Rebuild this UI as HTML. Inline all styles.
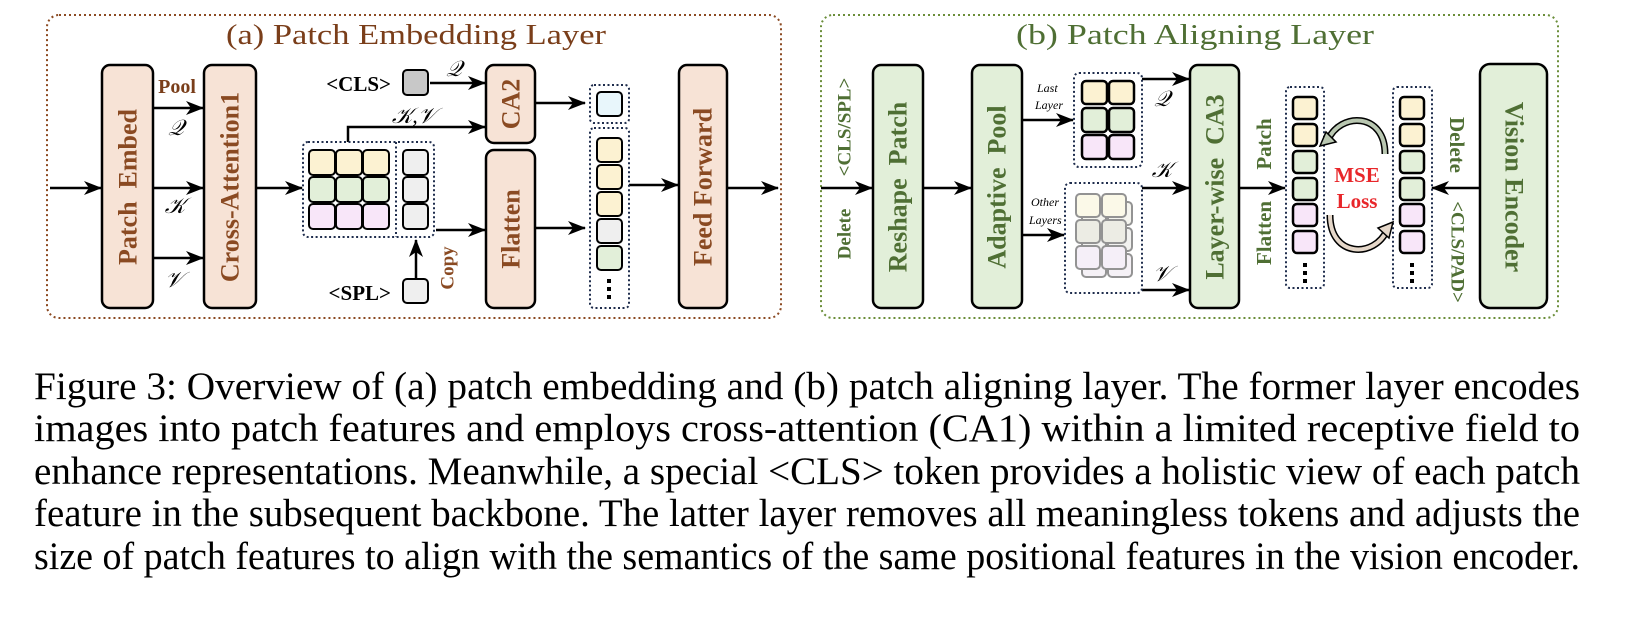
<!DOCTYPE html>
<html><head><meta charset="utf-8"><style>
html,body{margin:0;padding:0;background:#fff;}
svg{display:block;}
.bt{font-family:"Liberation Serif",serif;font-weight:bold;font-size:26px;text-anchor:middle;dominant-baseline:central;}
.ba{fill:#8a4a22}.gb{fill:#4f6f34}
</style></head><body>
<svg width="1634" height="622" viewBox="0 0 1634 622" xmlns="http://www.w3.org/2000/svg">
<defs>
<marker id="as" markerWidth="18" markerHeight="14" refX="17" refY="7" orient="auto" markerUnits="userSpaceOnUse"><path d="M0,0 L18,7 L0,14 L5,7 z" fill="#000"/></marker>
</defs>
<rect x="47" y="15" width="734" height="303" rx="12" fill="none" stroke="#8b4a22" stroke-width="2" stroke-dasharray="2,3"/>
<rect x="821" y="15" width="737" height="303" rx="12" fill="none" stroke="#6b8e3a" stroke-width="2" stroke-dasharray="2,3"/>
<text x="226" y="44" font-family="Liberation Serif,serif" font-size="28" fill="#7a3e1a" textLength="380" lengthAdjust="spacingAndGlyphs">(a)  Patch Embedding Layer</text>
<text x="1016" y="44" font-family="Liberation Serif,serif" font-size="28" fill="#4f6f34" textLength="358" lengthAdjust="spacingAndGlyphs">(b)  Patch Aligning Layer</text>

<g fill="#f7e3d6" stroke="#000" stroke-width="2.5">
<rect x="102" y="65" width="51" height="243" rx="8"/>
<rect x="204" y="65" width="52" height="243" rx="8"/>
<rect x="486" y="65" width="49" height="78" rx="8"/>
<rect x="486" y="150" width="49" height="158" rx="8"/>
<rect x="679" y="65" width="48" height="243" rx="8"/>
</g>
<text class="bt ba" transform="translate(128,187) rotate(-90)" xml:space="preserve">Patch  Embed</text>
<text class="bt ba" transform="translate(230,187) rotate(-90)">Cross-Attention1</text>
<text class="bt ba" transform="translate(511,104) rotate(-90)">CA2</text>
<text class="bt ba" transform="translate(511,229) rotate(-90)">Flatten</text>
<text class="bt ba" transform="translate(703,187) rotate(-90)">Feed Forward</text>

<g stroke="#000" stroke-width="2.5" fill="none">
<line x1="50" y1="188" x2="101" y2="188" marker-end="url(#as)"/>
<line x1="153" y1="108" x2="203" y2="108" marker-end="url(#as)"/>
<line x1="153" y1="188" x2="203" y2="188" marker-end="url(#as)"/>
<line x1="153" y1="258" x2="203" y2="258" marker-end="url(#as)"/>
<line x1="256" y1="188" x2="302" y2="188" marker-end="url(#as)"/>
<line x1="430" y1="83" x2="485" y2="83" marker-end="url(#as)"/>
<polyline points="348,142 348,127 485,127" marker-end="url(#as)"/>
<line x1="535" y1="103" x2="585" y2="103" marker-end="url(#as)"/>
<line x1="436" y1="230" x2="485" y2="230" marker-end="url(#as)"/>
<line x1="535" y1="228" x2="585" y2="228" marker-end="url(#as)"/>
<line x1="629" y1="185" x2="678" y2="185" marker-end="url(#as)"/>
<line x1="727" y1="188" x2="778" y2="188" marker-end="url(#as)"/>
<line x1="416" y1="278" x2="416" y2="240" marker-end="url(#as)"/>
</g>
<text x="177" y="93" font-family="Liberation Serif,serif" font-weight="bold" font-size="20" fill="#7a3e1a" text-anchor="middle">Pool</text>
<g font-family="Liberation Serif,serif" font-style="italic" font-size="22" text-anchor="middle">
<text x="176" y="135">𝒬</text><text x="175" y="213">𝒦</text><text x="174" y="287">𝒱</text>
<text x="454" y="76">𝒬</text><text x="414" y="123">𝒦,𝒱</text>
</g>
<text x="391" y="91" font-family="Liberation Serif,serif" font-weight="bold" font-size="21" text-anchor="end">&lt;CLS&gt;</text>
<text x="391" y="300" font-family="Liberation Serif,serif" font-weight="bold" font-size="21" text-anchor="end">&lt;SPL&gt;</text>
<text class="ba" transform="translate(448,268) rotate(-90)" font-family="Liberation Serif,serif" font-weight="bold" font-size="19" text-anchor="middle" dominant-baseline="central">Copy</text>

<rect x="303" y="142" width="131" height="95" rx="5" fill="none" stroke="#1f2d4d" stroke-width="2" stroke-dasharray="2,2.5"/>
<line x1="396" y1="142" x2="396" y2="237" stroke="#1f2d4d" stroke-width="2" stroke-dasharray="2,2.5"/>
<g stroke="#000" stroke-width="2">
<rect x="309" y="150" width="26" height="25" rx="4" fill="#fcf2d2"/><rect x="336" y="150" width="26" height="25" rx="4" fill="#fcf2d2"/><rect x="363" y="150" width="26" height="25" rx="4" fill="#fcf2d2"/>
<rect x="309" y="177" width="26" height="25" rx="4" fill="#e2efd9"/><rect x="336" y="177" width="26" height="25" rx="4" fill="#e2efd9"/><rect x="363" y="177" width="26" height="25" rx="4" fill="#e2efd9"/>
<rect x="309" y="204" width="26" height="25" rx="4" fill="#f8e6f9"/><rect x="336" y="204" width="26" height="25" rx="4" fill="#f8e6f9"/><rect x="363" y="204" width="26" height="25" rx="4" fill="#f8e6f9"/>
<rect x="403" y="150" width="25" height="25" rx="4" fill="#efefef"/><rect x="403" y="177" width="25" height="25" rx="4" fill="#efefef"/><rect x="403" y="204" width="25" height="25" rx="4" fill="#efefef"/>
<rect x="403" y="70" width="25" height="25" rx="4" fill="#c8c8c8"/>
<rect x="403" y="279" width="25" height="24" rx="4" fill="#efefef"/>
</g>
<rect x="590" y="85" width="39" height="38" rx="4" fill="none" stroke="#1f2d4d" stroke-width="2" stroke-dasharray="2,2.5"/>
<rect x="590" y="128" width="39" height="180" rx="4" fill="none" stroke="#1f2d4d" stroke-width="2" stroke-dasharray="2,2.5"/>
<g stroke="#000" stroke-width="2">
<rect x="597" y="92" width="25" height="24" rx="4" fill="#e8f6fb"/>
<rect x="597" y="138" width="25" height="24" rx="4" fill="#fcf2d2"/>
<rect x="597" y="165" width="25" height="24" rx="4" fill="#fcf2d2"/>
<rect x="597" y="192" width="25" height="24" rx="4" fill="#fcf2d2"/>
<rect x="597" y="219" width="25" height="24" rx="4" fill="#efefef"/>
<rect x="597" y="246" width="25" height="24" rx="4" fill="#e2efd9"/>
</g>
<g fill="#000"><rect x="607" y="279" width="4" height="4"/><rect x="607" y="287" width="4" height="4"/><rect x="607" y="295" width="4" height="4"/></g>

<g fill="#e2efd9" stroke="#000" stroke-width="2.5">
<rect x="873" y="65" width="50" height="243" rx="8"/>
<rect x="972" y="65" width="50" height="243" rx="8"/>
<rect x="1190" y="65" width="49" height="243" rx="8"/>
<rect x="1480" y="64" width="67" height="244" rx="10"/>
</g>
<text class="bt gb" transform="translate(898,187) rotate(-90)" xml:space="preserve">Reshape  Patch</text>
<text class="bt gb" transform="translate(997,187) rotate(-90)" xml:space="preserve">Adaptive  Pool</text>
<text class="bt gb" transform="translate(1215,187) rotate(-90)" xml:space="preserve">Layer-wise  CA3</text>
<text class="bt gb" transform="translate(1514,187) rotate(90)" font-size="29">Vision Encoder</text>
<g font-family="Liberation Serif,serif" font-weight="bold" font-size="19" fill="#4f6f34" text-anchor="middle" dominant-baseline="central">
<text transform="translate(845,234) rotate(-90)">Delete</text>
<text transform="translate(845,127) rotate(-90)">&lt;CLS/SPL&gt;</text>
<text transform="translate(1264,233) rotate(-90)" font-size="21">Flatten</text>
<text transform="translate(1264,144) rotate(-90)" font-size="21">Patch</text>
<text transform="translate(1457,145) rotate(90)" font-size="21">Delete</text>
<text transform="translate(1457,252) rotate(90)">&lt;CLS/PAD&gt;</text>
</g>
<g stroke="#000" stroke-width="2.5" fill="none">
<line x1="821" y1="188" x2="872" y2="188" marker-end="url(#as)"/>
<line x1="923" y1="188" x2="971" y2="188" marker-end="url(#as)"/>
<line x1="1022" y1="120" x2="1073" y2="120" marker-end="url(#as)"/>
<line x1="1022" y1="235" x2="1064" y2="235" marker-end="url(#as)"/>
<line x1="1142" y1="79" x2="1189" y2="79" marker-end="url(#as)"/>
<line x1="1142" y1="188" x2="1189" y2="188" marker-end="url(#as)"/>
<line x1="1142" y1="290" x2="1189" y2="290" marker-end="url(#as)"/>
<line x1="1239" y1="188" x2="1285" y2="188" marker-end="url(#as)"/>
<line x1="1480" y1="188" x2="1432" y2="188" marker-end="url(#as)"/>
</g>
<g font-family="Liberation Serif,serif" font-style="italic" font-size="12" fill="#000">
<text x="1037" y="92">Last</text><text x="1035" y="109">Layer</text>
<text x="1031" y="206">Other</text><text x="1029" y="224">Layers</text>
</g>
<g font-family="Liberation Serif,serif" font-style="italic" font-size="22" text-anchor="middle">
<text x="1162" y="106">𝒬</text><text x="1162" y="177">𝒦</text><text x="1162" y="281">𝒱</text>
</g>
<rect x="1074" y="73" width="68" height="94" rx="5" fill="none" stroke="#1f2d4d" stroke-width="2" stroke-dasharray="2,2.5"/>
<g stroke="#000" stroke-width="2.5">
<rect x="1082" y="81" width="25" height="23" rx="4" fill="#fcf2d2"/><rect x="1109" y="81" width="25" height="23" rx="4" fill="#fcf2d2"/>
<rect x="1082" y="108" width="25" height="24" rx="4" fill="#e2efd9"/><rect x="1109" y="108" width="25" height="24" rx="4" fill="#e2efd9"/>
<rect x="1082" y="135" width="25" height="24" rx="4" fill="#f8e6f9"/><rect x="1109" y="135" width="25" height="24" rx="4" fill="#f8e6f9"/>
</g>
<rect x="1065" y="183" width="77" height="110" rx="5" fill="none" stroke="#1f2d4d" stroke-width="2" stroke-dasharray="2,2.5"/>
<g stroke="#888" stroke-width="2" opacity="0.9">
<rect x="1082" y="202" width="24" height="23" rx="4" fill="#f4f4ee"/><rect x="1108" y="202" width="24" height="23" rx="4" fill="#f4f4ee"/>
<rect x="1082" y="228" width="24" height="23" rx="4" fill="#f1f1ef"/><rect x="1108" y="228" width="24" height="23" rx="4" fill="#f1f1ef"/>
<rect x="1082" y="254" width="24" height="23" rx="4" fill="#f4f0f6"/><rect x="1108" y="254" width="24" height="23" rx="4" fill="#f4f0f6"/>
<rect x="1076" y="194" width="24" height="23" rx="4" fill="#fbf9e6"/><rect x="1102" y="194" width="24" height="23" rx="4" fill="#fbf9e6"/>
<rect x="1076" y="220" width="24" height="23" rx="4" fill="#ebebe2"/><rect x="1102" y="220" width="24" height="23" rx="4" fill="#ebebe2"/>
<rect x="1076" y="246" width="24" height="23" rx="4" fill="#f4eef8"/><rect x="1102" y="246" width="24" height="23" rx="4" fill="#f4eef8"/>
</g>
<rect x="1286" y="87" width="38" height="201" rx="4" fill="none" stroke="#1f2d4d" stroke-width="2" stroke-dasharray="2,2.5"/>
<rect x="1393" y="87" width="39" height="201" rx="4" fill="none" stroke="#1f2d4d" stroke-width="2" stroke-dasharray="2,2.5"/>
<g stroke="#000" stroke-width="2.5">
<rect x="1293" y="97" width="24" height="22" rx="4" fill="#fcf2d2"/><rect x="1293" y="124" width="24" height="22" rx="4" fill="#fcf2d2"/>
<rect x="1293" y="151" width="24" height="22" rx="4" fill="#e2efd9"/><rect x="1293" y="178" width="24" height="22" rx="4" fill="#e2efd9"/>
<rect x="1293" y="204" width="24" height="22" rx="4" fill="#f8e6f9"/><rect x="1293" y="231" width="24" height="22" rx="4" fill="#f8e6f9"/>
<rect x="1400" y="97" width="24" height="22" rx="4" fill="#fcf2d2"/><rect x="1400" y="124" width="24" height="22" rx="4" fill="#fcf2d2"/>
<rect x="1400" y="151" width="24" height="22" rx="4" fill="#e2efd9"/><rect x="1400" y="178" width="24" height="22" rx="4" fill="#e2efd9"/>
<rect x="1400" y="204" width="24" height="22" rx="4" fill="#f8e6f9"/><rect x="1400" y="231" width="24" height="22" rx="4" fill="#f8e6f9"/>
</g>
<g fill="#000"><rect x="1303" y="263" width="4" height="4"/><rect x="1303" y="271" width="4" height="4"/><rect x="1303" y="279" width="4" height="4"/>
<rect x="1410" y="263" width="4" height="4"/><rect x="1410" y="271" width="4" height="4"/><rect x="1410" y="279" width="4" height="4"/></g>
<path d="M1385,154 C1385,112 1340,112 1328,140" fill="none" stroke="#000" stroke-width="7"/>
<path d="M1385,154 C1385,112 1340,112 1328,140" fill="none" stroke="#b9c7b1" stroke-width="4"/>
<path d="M1320,146 L1336,142 L1326,132 z" fill="#b9c7b1" stroke="#000" stroke-width="1.5"/>
<path d="M1330,215 C1330,258 1375,258 1387,230" fill="none" stroke="#000" stroke-width="7"/>
<path d="M1330,215 C1330,258 1375,258 1387,230" fill="none" stroke="#e5d7c9" stroke-width="4"/>
<path d="M1393,222 L1378,228 L1389,238 z" fill="#e5d7c9" stroke="#000" stroke-width="1.5"/>
<text x="1357" y="182" font-family="Liberation Serif,serif" font-weight="bold" font-size="21" fill="#e8262a" text-anchor="middle">MSE</text>
<text x="1357" y="208" font-family="Liberation Serif,serif" font-weight="bold" font-size="21" fill="#e8262a" text-anchor="middle">Loss</text>

<g font-family="Liberation Serif,serif" font-size="39" fill="#000">
<text x="34" y="399" textLength="1546" lengthAdjust="spacingAndGlyphs">Figure 3: Overview of (a) patch embedding and (b) patch aligning layer. The former layer encodes</text>
<text x="34" y="441" textLength="1546" lengthAdjust="spacingAndGlyphs">images into patch features and employs cross-attention (CA1) within a limited receptive field to</text>
<text x="34" y="484" textLength="1546" lengthAdjust="spacingAndGlyphs">enhance representations. Meanwhile, a special &lt;CLS&gt; token provides a holistic view of each patch</text>
<text x="34" y="526" textLength="1546" lengthAdjust="spacingAndGlyphs">feature in the subsequent backbone. The latter layer removes all meaningless tokens and adjusts the</text>
<text x="34" y="569" textLength="1546" lengthAdjust="spacingAndGlyphs">size of patch features to align with the semantics of the same positional features in the vision encoder.</text>
</g>
</svg>
</body></html>
